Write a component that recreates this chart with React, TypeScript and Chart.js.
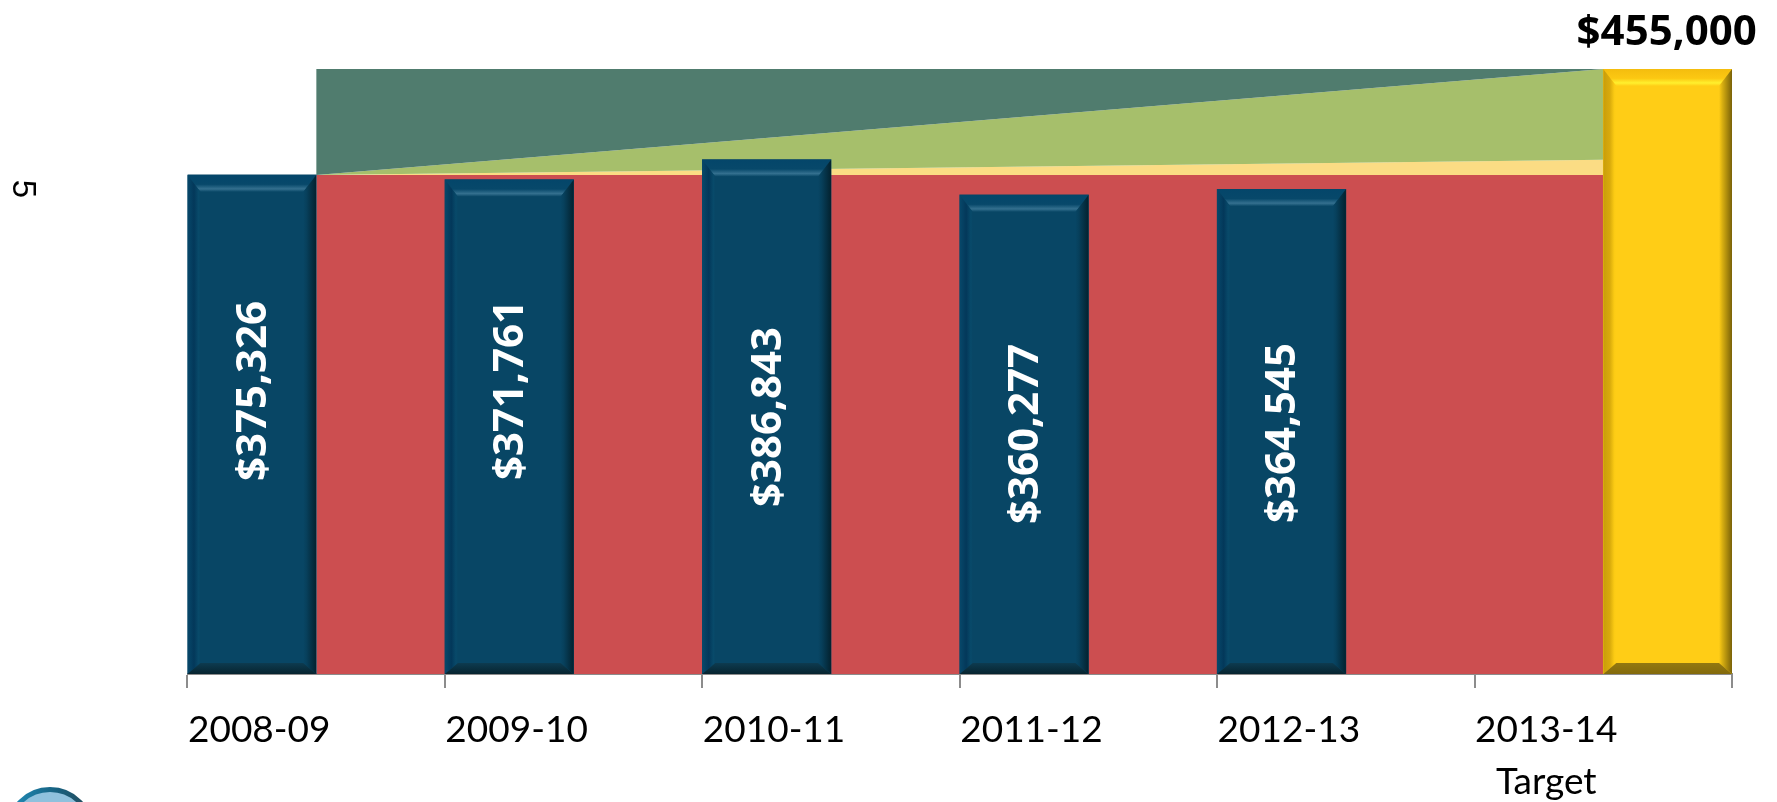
import React, { useEffect, useRef } from "react";
import { Chart, registerables } from "chart.js";

Chart.register(...registerables);

const categories: (string | string[])[] = ["2008-09", "2009-10", "2010-11", "2011-12", "2012-13", ["2013-14", "Target"]];
const actuals = [375326, 371761, 386843, 360277, 364545, null];
const target = [null, null, null, null, null, 455000];
const baseLevel = [375326, 375326, 375326, 375326, 375326, 375326];
const peakBand = [375326, null, null, null, null, 386843];
const gapBand = [375326, null, null, null, null, 455000];
const ceiling = [455000, null, null, null, null, 455000];
const sideLabel = "5";

const labelCenters = [391, 390, 417, 434, 433];

const BLUE = { base: "#084665", topOuter: "#04466a", topMid: "#07486a", topHi: "#34708f", leftOuter: "#07486a", leftMid: "#03385a", leftIn: "#084a6a", rightIn: "#07405c", rightOuter: "#03222f", botIn: "#0d3b50", botOuter: "#07242f" };
const GOLD = { base: "#ffcd16", topOuter: "#f4bd0e", topMid: "#fcc812", topHi: "#fff02e", leftOuter: "#c99d0a", leftMid: "#d8aa0c", leftIn: "#fccb14", rightIn: "#d9b011", rightOuter: "#7a6208", botIn: "#937810", botOuter: "#836a0c" };

function poly(ctx: CanvasRenderingContext2D, pts: number[][], fill: CanvasGradient) {
  ctx.beginPath();
  pts.forEach((p, i) => (i ? ctx.lineTo(p[0], p[1]) : ctx.moveTo(p[0], p[1])));
  ctx.closePath();
  ctx.fillStyle = fill;
  ctx.fill();
}

function bevel(ctx: CanvasRenderingContext2D, l: number, t: number, r: number, b: number, c: typeof BLUE) {
  const sx = 13, st = 17, sb = 11;
  const top = ctx.createLinearGradient(0, t, 0, t + st);
  top.addColorStop(0, c.topOuter);
  top.addColorStop(0.55, c.topMid);
  top.addColorStop(0.82, c.topHi);
  top.addColorStop(1, c.base);
  poly(ctx, [[l, t], [r, t], [r - sx, t + st], [l + sx, t + st]], top);
  const left = ctx.createLinearGradient(l, 0, l + sx, 0);
  left.addColorStop(0, c.leftOuter);
  left.addColorStop(0.5, c.leftMid);
  left.addColorStop(0.85, c.leftIn);
  left.addColorStop(1, c.base);
  poly(ctx, [[l, t], [l + sx, t + st], [l + sx, b - sb], [l, b]], left);
  const right = ctx.createLinearGradient(r - sx, 0, r, 0);
  right.addColorStop(0, c.base);
  right.addColorStop(0.25, c.rightIn);
  right.addColorStop(1, c.rightOuter);
  poly(ctx, [[r, t], [r - sx, t + st], [r - sx, b - sb], [r, b]], right);
  const bot = ctx.createLinearGradient(0, b - sb, 0, b);
  bot.addColorStop(0, c.botIn);
  bot.addColorStop(1, c.botOuter);
  poly(ctx, [[l, b], [l + sx, b - sb], [r - sx, b - sb], [r, b]], bot);
}

const decorations = {
  id: "decorations",
  afterDatasetsDraw(chart: any) {
    const ctx: CanvasRenderingContext2D = chart.ctx;
    ctx.save();
    [4, 5].forEach((di) => {
      const colors = di === 4 ? BLUE : GOLD;
      chart.getDatasetMeta(di).data.forEach((el: any, i: number) => {
        const v = chart.data.datasets[di].data[i];
        if (v == null) return;
        const w = el.width;
        bevel(ctx, el.x - w / 2, el.y, el.x + w / 2, el.base, colors);
        const text = "$" + Number(v).toLocaleString("en-US");
        ctx.textAlign = "center";
        ctx.textBaseline = "middle";
        ctx.font = "bold 42px 'Open Sans'";
        if (di === 4) {
          ctx.save();
          ctx.translate(el.x + 2, labelCenters[i]);
          ctx.rotate(-Math.PI / 2);
          ctx.fillStyle = "#ffffff";
          ctx.fillText(text, 0, 0);
          ctx.restore();
        } else {
          ctx.fillStyle = "#000000";
          ctx.fillText(text, el.x - 1, 33);
        }
      });
    });
    ctx.restore();
  },
  afterDraw(chart: any) {
    const ctx: CanvasRenderingContext2D = chart.ctx;
    ctx.save();
    ctx.translate(22, 189);
    ctx.rotate(Math.PI / 2);
    ctx.fillStyle = "#000000";
    ctx.font = "33px 'Liberation Sans'";
    ctx.textAlign = "center";
    ctx.textBaseline = "middle";
    ctx.fillText(sideLabel, 0, 0);
    ctx.restore();
    // round badge cut off by the bottom edge
    ctx.save();
    ctx.beginPath();
    ctx.arc(50, 831, 41.5, 0, Math.PI * 2);
    ctx.fillStyle = "#8fc1dd";
    ctx.fill();
    ctx.lineWidth = 5;
    const g = ctx.createLinearGradient(17, 0, 85, 0);
    g.addColorStop(0, "#1f86b0");
    g.addColorStop(0.6, "#17607f");
    g.addColorStop(1, "#244f60");
    ctx.strokeStyle = g;
    ctx.stroke();
    ctx.restore();
  },
};

export default function App() {
  const ref = useRef<HTMLCanvasElement>(null);
  useEffect(() => {
    const chart = new Chart(ref.current as HTMLCanvasElement, {
      type: "bar",
      data: {
        labels: categories as any,
        datasets: [
          { type: "line", label: "Base", data: baseLevel, backgroundColor: "#cc4e50", fill: "origin", pointRadius: 0, borderWidth: 0, order: 4 },
          { type: "line", label: "Peak", data: peakBand, backgroundColor: "#fbdc84", fill: "-1", spanGaps: true, pointRadius: 0, borderWidth: 0, order: 3 },
          { type: "line", label: "Gap", data: gapBand, backgroundColor: "#a6bf6b", fill: "-1", spanGaps: true, pointRadius: 0, borderWidth: 0, order: 2 },
          { type: "line", label: "Ceiling", data: ceiling, backgroundColor: "#507c6e", fill: "-1", spanGaps: true, pointRadius: 0, borderWidth: 0, order: 1 },
          { type: "bar", label: "Actual", data: actuals, backgroundColor: BLUE.base, barPercentage: 1, categoryPercentage: 1, order: 0 },
          { type: "bar", label: "Target", data: target, backgroundColor: GOLD.base, barPercentage: 1, categoryPercentage: 1, order: 0 },
        ] as any,
      },
      options: {
        responsive: false,
        animation: false,
        layout: { padding: { left: 187.5, right: 45, top: 69, bottom: 0 } },
        plugins: { legend: { display: false }, tooltip: { enabled: false }, title: { display: false } },
        scales: {
          x: {
            offset: true,
            afterFit: (s: any) => { s.height = 128; },
            border: { color: "#8c8c8c", width: 2 },
            grid: { drawOnChartArea: false, color: "#8c8c8c", lineWidth: 2, tickLength: 14, offset: true },
            ticks: {
              autoSkip: false,
              maxRotation: 0,
              minRotation: 0,
              padding: 17,
              labelOffset: -57,
              color: "#000000",
              font: { family: "Lato", size: 37, lineHeight: 1.38 },
            },
          },
          y: { display: false, min: 0, max: 455000, grid: { display: false } },
        },
      } as any,
      plugins: [decorations],
    });
    return () => chart.destroy();
  }, []);
  return (
    <div style={{ position: "fixed", left: 0, top: 0, width: 1777, height: 802, background: "#ffffff", overflow: "hidden" }}>
      <canvas ref={ref} width={1777} height={802} style={{ display: "block" }} />
    </div>
  );
}
